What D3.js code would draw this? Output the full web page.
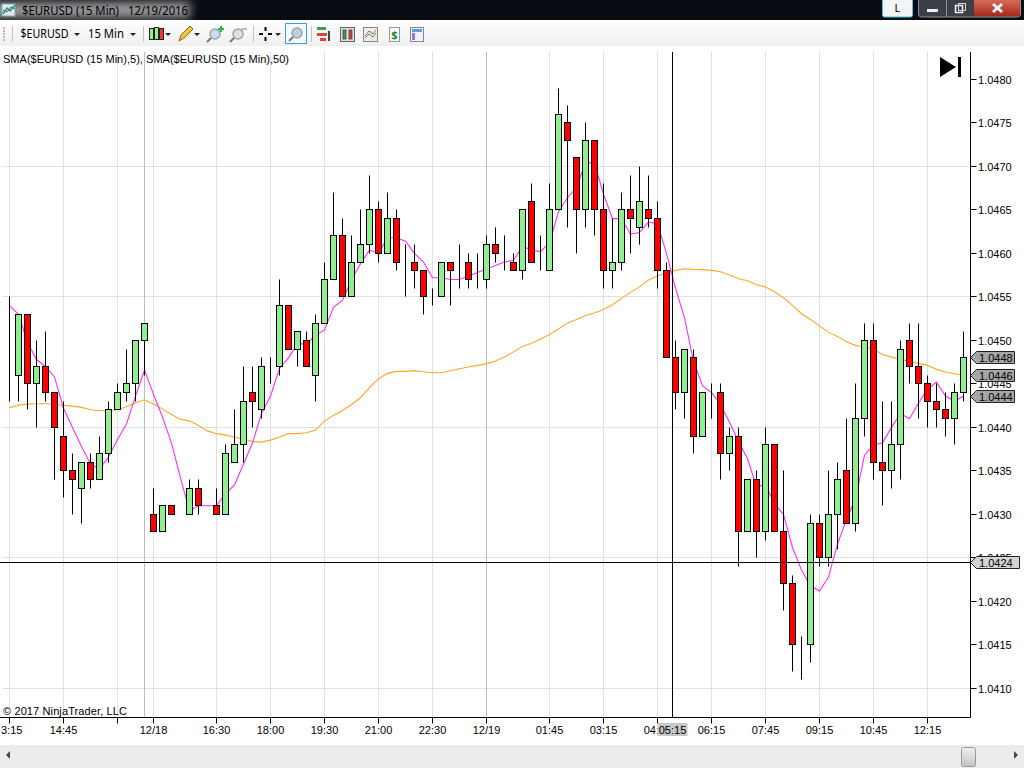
<!DOCTYPE html>
<html>
<head>
    <title>$EURUSD (15 Min)</title>
    <script src="https://d3js.org/d3.v7.min.js"></script>
    <style>
        html, body { margin: 0; padding: 0; background: #fff; overflow: hidden; }
        svg { display: block; }
        text { font-family: "Liberation Sans", Arial, sans-serif; font-size: 11px; fill: #000; }
        .ui text { font-family: "Noto Sans", sans-serif; font-size: 12px; }
    </style>
</head>
<body>
    <div id="chart"></div>

    <script>
        // Candles, one per 15 minute bar
        const opens = [
            1.0446, 1.0446, 1.0453, 1.0445, 1.0447, 1.0444, 1.0439, 1.0435, 1.0433, 1.0436,
            1.0434, 1.0437, 1.0442, 1.0444, 1.0445, 1.0450, 1.0430, 1.0428, 1.0431, 1.0430,
            1.0430, 1.0433, 1.0431, 1.0431, 1.0430, 1.0436, 1.0438, 1.0444, 1.0442, 1.0447,
            1.0447, 1.0454, 1.0449, 1.0450, 1.0446, 1.0452, 1.0457, 1.0462, 1.0455, 1.0459,
            1.0461, 1.0465, 1.0460, 1.0464, 1.0459, 1.0459, 1.0458, 1.0455, 1.0455, 1.0459,
            1.0458, 1.0459, 1.0457, 1.0457, 1.0461, 1.0460, 1.0459, 1.0458, 1.0466, 1.0459,
            1.0458, 1.0465, 1.0475, 1.0471, 1.0465, 1.0473, 1.0465, 1.0458, 1.0459, 1.0465,
            1.0463, 1.0465, 1.0464, 1.0458, 1.0448, 1.0444, 1.0448, 1.0439, 1.0444, 1.0444,
            1.0437, 1.0439, 1.0428, 1.0434, 1.0428, 1.0438, 1.0428, 1.0422, 1.0415, 1.0415,
            1.0429, 1.0425, 1.0430, 1.0435, 1.0429, 1.0441, 1.0450, 1.0436, 1.0435, 1.0438,
            1.0450, 1.0447, 1.0445, 1.0443, 1.0442, 1.0441, 1.0444
        ];
        const highs = [
            1.0455, 1.0453, 1.0453, 1.0450, 1.0451, 1.0444, 1.0443, 1.0437, 1.0436, 1.0437,
            1.0439, 1.0443, 1.0445, 1.0449, 1.0450, 1.0452, 1.0433, 1.0431, 1.0431, 1.0430,
            1.0434, 1.0434, 1.0431, 1.0433, 1.0438, 1.0442, 1.0447, 1.0447, 1.0448, 1.0448,
            1.0457, 1.0454, 1.0451, 1.0451, 1.0453, 1.0459, 1.0467, 1.0464, 1.0462, 1.0465,
            1.0469, 1.0466, 1.0467, 1.0465, 1.0461, 1.0461, 1.0458, 1.0456, 1.0459, 1.0459,
            1.0461, 1.0460, 1.0460, 1.0462, 1.0463, 1.0462, 1.0460, 1.0465, 1.0468, 1.0462,
            1.0468, 1.0479, 1.0477, 1.0471, 1.0475, 1.0473, 1.0468, 1.0464, 1.0467, 1.0469,
            1.0470, 1.0469, 1.0466, 1.0459, 1.0450, 1.0449, 1.0449, 1.0444, 1.0445, 1.0445,
            1.0440, 1.0440, 1.0434, 1.0435, 1.0440, 1.0438, 1.0435, 1.0423, 1.0416, 1.0430,
            1.0430, 1.0435, 1.0436, 1.0441, 1.0445, 1.0452, 1.0452, 1.0443, 1.0443, 1.0450,
            1.0452, 1.0452, 1.0446, 1.0445, 1.0444, 1.0445, 1.0451
        ];
        const lows = [
            1.0443, 1.0443, 1.0442, 1.0440, 1.0443, 1.0434, 1.0432, 1.0430, 1.0429, 1.0433,
            1.0434, 1.0436, 1.0442, 1.0443, 1.0443, 1.0446, 1.0428, 1.0428, 1.0430, 1.0430,
            1.0430, 1.0430, 1.0431, 1.0430, 1.0430, 1.0436, 1.0436, 1.0440, 1.0441, 1.0445,
            1.0446, 1.0449, 1.0447, 1.0447, 1.0443, 1.0452, 1.0457, 1.0455, 1.0455, 1.0459,
            1.0460, 1.0459, 1.0460, 1.0458, 1.0455, 1.0456, 1.0453, 1.0454, 1.0455, 1.0454,
            1.0456, 1.0456, 1.0456, 1.0456, 1.0459, 1.0458, 1.0458, 1.0457, 1.0459, 1.0458,
            1.0458, 1.0465, 1.0463, 1.0460, 1.0463, 1.0462, 1.0456, 1.0456, 1.0458, 1.0460,
            1.0461, 1.0463, 1.0456, 1.0448, 1.0442, 1.0441, 1.0437, 1.0439, 1.0441, 1.0434,
            1.0435, 1.0424, 1.0428, 1.0425, 1.0427, 1.0428, 1.0419, 1.0412, 1.0411, 1.0413,
            1.0424, 1.0424, 1.0426, 1.0429, 1.0428, 1.0439, 1.0434, 1.0431, 1.0433, 1.0434,
            1.0445, 1.0441, 1.0440, 1.0440, 1.0439, 1.0438, 1.0443
        ];
        const closes = [
            1.0446, 1.0453, 1.0445, 1.0447, 1.0444, 1.0440, 1.0435, 1.0434, 1.0436, 1.0434,
            1.0437, 1.0442, 1.0444, 1.0445, 1.0450, 1.0452, 1.0428, 1.0431, 1.0430, 1.0430,
            1.0433, 1.0431, 1.0431, 1.0430, 1.0437, 1.0438, 1.0443, 1.0443, 1.0447, 1.0447,
            1.0454, 1.0449, 1.0451, 1.0447, 1.0452, 1.0457, 1.0462, 1.0455, 1.0459, 1.0461,
            1.0465, 1.0460, 1.0464, 1.0459, 1.0459, 1.0458, 1.0455, 1.0455, 1.0459, 1.0458,
            1.0458, 1.0457, 1.0457, 1.0461, 1.0460, 1.0460, 1.0458, 1.0465, 1.0459, 1.0459,
            1.0465, 1.0476, 1.0473, 1.0465, 1.0473, 1.0465, 1.0458, 1.0459, 1.0465, 1.0464,
            1.0466, 1.0464, 1.0458, 1.0448, 1.0444, 1.0449, 1.0439, 1.0444, 1.0444, 1.0437,
            1.0439, 1.0428, 1.0434, 1.0428, 1.0438, 1.0428, 1.0422, 1.0415, 1.0415, 1.0429,
            1.0425, 1.0430, 1.0434, 1.0429, 1.0441, 1.0450, 1.0436, 1.0435, 1.0438, 1.0449,
            1.0447, 1.0445, 1.0443, 1.0442, 1.0441, 1.0444, 1.0448
        ];

        // Indicator lines
        const sma5 = [
            1.04540, 1.04530, 1.04498, 1.04478, 1.04470, 1.04458, 1.04422, 1.04400, 1.04378, 1.04358,
            1.04352, 1.04366, 1.04386, 1.04404, 1.04436, 1.04466, 1.04438, 1.04412, 1.04382, 1.04342,
            1.04304, 1.04310, 1.04310, 1.04310, 1.04324, 1.04334, 1.04358, 1.04382, 1.04416, 1.04436,
            1.04468, 1.04480, 1.04496, 1.04496, 1.04506, 1.04512, 1.04538, 1.04546, 1.04570, 1.04588,
            1.04604, 1.04600, 1.04618, 1.04618, 1.04614, 1.04600, 1.04590, 1.04572, 1.04572, 1.04570,
            1.04570, 1.04574, 1.04578, 1.04582, 1.04586, 1.04590, 1.04592, 1.04608, 1.04604, 1.04602,
            1.04612, 1.04648, 1.04664, 1.04676, 1.04704, 1.04704, 1.04668, 1.04640, 1.04640, 1.04622,
            1.04624, 1.04636, 1.04634, 1.04600, 1.04560, 1.04526, 1.04476, 1.04448, 1.04440, 1.04426,
            1.04406, 1.04384, 1.04364, 1.04332, 1.04334, 1.04312, 1.04300, 1.04262, 1.04236, 1.04218,
            1.04212, 1.04228, 1.04266, 1.04294, 1.04318, 1.04368, 1.04380, 1.04382, 1.04400, 1.04416,
            1.04410, 1.04428, 1.04444, 1.04452, 1.04436, 1.04430, 1.04436
        ];
        const sma50 = [
            1.044226, 1.044256, 1.044268, 1.044272, 1.044272, 1.044264, 1.044253, 1.044245, 1.044230, 1.044203,
            1.044192, 1.044199, 1.044203, 1.044238, 1.044284, 1.044318, 1.044270, 1.044213, 1.044149, 1.044092,
            1.044075, 1.044023, 1.043960, 1.043928, 1.043911, 1.043889, 1.043862, 1.043839, 1.043831, 1.043854,
            1.043889, 1.043928, 1.043928, 1.043939, 1.043969, 1.044072, 1.044138, 1.044195, 1.044264, 1.044341,
            1.044456, 1.044560, 1.044621, 1.044644, 1.044644, 1.044652, 1.044640, 1.044629, 1.044629, 1.044652,
            1.044675, 1.044695, 1.044713, 1.044730, 1.044764, 1.044810, 1.044868, 1.044931, 1.044966, 1.045017,
            1.045069, 1.045132, 1.045201, 1.045241, 1.045287, 1.045316, 1.045356, 1.045410, 1.045483, 1.045552,
            1.045615, 1.045695, 1.045739, 1.045778, 1.045805, 1.045824, 1.045816, 1.045813, 1.045805, 1.045790,
            1.045751, 1.045709, 1.045686, 1.045640, 1.045613, 1.045560, 1.045491, 1.045402, 1.045307, 1.045241,
            1.045164, 1.045095, 1.045046, 1.044985, 1.044943, 1.044928, 1.044897, 1.044839, 1.044808, 1.044782,
            1.044762, 1.044736, 1.044713, 1.044667, 1.044636, 1.044617, 1.044598
        ];

        // Axis content
        const priceTicks = [1.0410, 1.0415, 1.0420, 1.0425, 1.0430, 1.0435, 1.0440, 1.0445, 1.0450, 1.0455, 1.0460, 1.0465, 1.0470, 1.0475, 1.0480];
        const priceGrid = [1.0410, 1.0425, 1.0440, 1.0455, 1.0470];
        const timeTickBars = [0, 6, 12, 16, 23, 29, 35, 41, 47, 53, 60, 66, 72, 78, 84, 90, 96, 102];
        const timeTickLabels = ['3:15', '14:45', '', '12/18', '16:30', '18:00', '19:30', '21:00', '22:30', '12/19', '01:45', '03:15', '04:45', '06:15', '07:45', '09:15', '10:45', '12:15'];
        const sessionBars = [15, 53];

        // Crosshair position
        const cursorBar = 73.68;
        const cursorPrice = 1.04245;
        const cursorPriceLabel = '1.0424';
        const cursorTimeLabel = '05:15';

        const width = 1024;
        const height = 768;
        const plotTop = 52;
        const plotBottom = 717.5;
        const plotRight = 970.5;

        const svg = d3.select('#chart').append('svg')
            .attr('width', width)
            .attr('height', height);

        const x = d3.scaleLinear().domain([0, 106]).range([9.5, 963.5]);
        const y = d3.scaleLinear().domain([1.0410, 1.0480]).range([688.4, 79.4]);
        const py = v => Math.floor(y(v)) + 0.5;

        // Grid
        const grid = svg.append('g');
        grid.selectAll('.hgrid').data(priceGrid).enter().append('line')
            .attr('x1', 2).attr('x2', plotRight)
            .attr('y1', py).attr('y2', py)
            .attr('stroke', '#e1e1e1');
        grid.selectAll('.vgrid').data(timeTickBars).enter().append('line')
            .attr('x1', d => x(d)).attr('x2', d => x(d))
            .attr('y1', plotTop).attr('y2', plotBottom)
            .attr('stroke', '#e1e1e1');
        grid.selectAll('.session').data(sessionBars).enter().append('line')
            .attr('x1', d => x(d)).attr('x2', d => x(d))
            .attr('y1', plotTop).attr('y2', plotBottom)
            .attr('stroke', '#bdbdbd');

        // Indicators sit under the candles
        const line = d3.line().x((d, i) => x(i)).y(d => y(d));
        svg.append('path').datum(sma50).attr('d', line)
            .attr('fill', 'none').attr('stroke', '#ffa826').attr('stroke-width', 1.1);
        svg.append('path').datum(sma5).attr('d', line)
            .attr('fill', 'none').attr('stroke', '#ff2eff').attr('stroke-width', 1.1);

        // Candles
        const bars = d3.range(opens.length);
        svg.append('g').selectAll('line').data(bars).enter().append('line')
            .attr('x1', d => x(d)).attr('x2', d => x(d))
            .attr('y1', d => py(highs[d])).attr('y2', d => py(lows[d]))
            .attr('stroke', '#000');
        svg.append('g').selectAll('rect').data(bars).enter().append('rect')
            .attr('x', d => x(d) - 3)
            .attr('width', 6)
            .attr('y', d => py(Math.max(opens[d], closes[d])))
            .attr('height', d => py(Math.min(opens[d], closes[d])) - py(Math.max(opens[d], closes[d])))
            .attr('fill', d => closes[d] > opens[d] ? '#90ee90' : '#ff0000')
            .attr('stroke', '#000');

        // Axes lines and ticks
        svg.append('line').attr('x1', 0).attr('x2', plotRight).attr('y1', plotBottom).attr('y2', plotBottom).attr('stroke', '#000');
        svg.append('line').attr('x1', plotRight).attr('x2', plotRight).attr('y1', plotTop).attr('y2', plotBottom).attr('stroke', '#000');

        const yAxis = svg.append('g');
        yAxis.selectAll('line').data(priceTicks).enter().append('line')
            .attr('x1', plotRight).attr('x2', plotRight + 6)
            .attr('y1', py).attr('y2', py)
            .attr('stroke', '#000');
        yAxis.selectAll('text').data(priceTicks).enter().append('text')
            .attr('x', 978).attr('y', d => py(d) + 4)
            .text(d => d3.format('.4f')(d));

        const xAxis = svg.append('g');
        xAxis.selectAll('line').data(timeTickBars).enter().append('line')
            .attr('x1', d => x(d)).attr('x2', d => x(d))
            .attr('y1', plotBottom).attr('y2', plotBottom + 6)
            .attr('stroke', '#000');
        xAxis.selectAll('text').data(timeTickBars).enter().append('text')
            .attr('x', (d, i) => i === 0 ? 1 : x(d))
            .attr('y', 734)
            .attr('text-anchor', (d, i) => i === 0 ? 'start' : 'middle')
            .text((d, i) => timeTickLabels[i]);

        // Text on the plot
        svg.append('text').attr('x', 3).attr('y', 63).attr('textLength', 286).text('SMA($EURUSD (15 Min),5), SMA($EURUSD (15 Min),50)');
        svg.append('text').attr('x', 3).attr('y', 715).attr('textLength', 124).text('\u00a9 2017 NinjaTrader, LLC');

        // Jump to last bar button
        svg.append('path').attr('d', 'M940 57 L956 67 L940 77 Z').attr('fill', '#000');
        svg.append('rect').attr('x', 958).attr('y', 57).attr('width', 3).attr('height', 20).attr('fill', '#000');

        // Crosshair
        const cx = Math.floor(x(cursorBar)) + 0.5;
        const cy = py(cursorPrice);
        svg.append('line').attr('x1', cx).attr('x2', cx).attr('y1', plotTop).attr('y2', plotBottom).attr('stroke', '#000');
        svg.append('line').attr('x1', 0).attr('x2', plotRight).attr('y1', cy).attr('y2', cy).attr('stroke', '#000');
        svg.append('rect').attr('x', cx - 15).attr('y', 723).attr('width', 30).attr('height', 13).attr('fill', '#c8c8c8');
        svg.append('text').attr('x', cx).attr('y', 734).attr('text-anchor', 'middle').text(cursorTimeLabel);

        // Price flags on the axis
        function flag(value, label, right, fill) {
            const fy = py(value);
            svg.append('path')
                .attr('d', `M${plotRight} ${fy} L976.5 ${fy - 6} H${right} V${fy + 6} H976.5 Z`)
                .attr('fill', fill).attr('stroke', '#222');
            svg.append('text').attr('x', 979).attr('y', fy + 4).text(label);
        }
        flag(cursorPrice, cursorPriceLabel, 1019.5, '#d4d4d4');
        const f = d3.format('.4f');
        flag(sma5[106], f(sma5[106]), 1014.5, '#a6a6a6');
        flag(sma50[106], f(sma50[106]), 1014.5, '#a6a6a6');
        flag(closes[106], f(closes[106]), 1014.5, '#a6a6a6');

        // Window chrome
        const ui = svg.append('g').attr('class', 'ui');
        const defs = svg.append('defs');
        const toolbarGrad = defs.append('linearGradient').attr('id', 'toolbarGrad').attr('x2', 0).attr('y2', 1);
        toolbarGrad.append('stop').attr('offset', 0).attr('stop-color', '#ffffff');
        toolbarGrad.append('stop').attr('offset', 1).attr('stop-color', '#efefef');
        const thumbGrad = defs.append('linearGradient').attr('id', 'thumbGrad').attr('x2', 0).attr('y2', 1);
        thumbGrad.append('stop').attr('offset', 0).attr('stop-color', '#f0f0f0');
        thumbGrad.append('stop').attr('offset', 1).attr('stop-color', '#c4c4c4');
        const closeGrad = defs.append('linearGradient').attr('id', 'closeGrad').attr('x2', 0).attr('y2', 1);
        closeGrad.append('stop').attr('offset', 0).attr('stop-color', '#d9705f');
        closeGrad.append('stop').attr('offset', 1).attr('stop-color', '#a8281a');
        defs.append('filter').attr('id', 'glow').attr('x', '-20%').attr('y', '-100%').attr('width', '140%').attr('height', '300%')
            .append('feGaussianBlur').attr('stdDeviation', 5);

        ui.append('rect').attr('width', width).attr('height', 20).attr('fill', '#090c13');
        ui.append('rect').attr('x', -10).attr('y', 2).attr('width', 200).attr('height', 16).attr('fill', '#9a9a9a').attr('filter', 'url(#glow)');
        ui.append('rect').attr('y', 20).attr('width', width).attr('height', 26).attr('fill', 'url(#toolbarGrad)');
        ui.append('rect').attr('y', 46).attr('width', width).attr('height', 6).attr('fill', '#fff');

        // Title bar
        ui.append('text').attr('x', 22).attr('y', 15).attr('textLength', 97).attr('lengthAdjust', 'spacingAndGlyphs').text('$EURUSD (15 Min)');
        ui.append('text').attr('x', 128).attr('y', 15).attr('textLength', 60).attr('lengthAdjust', 'spacingAndGlyphs').text('12/19/2016');
        ui.append('rect').attr('x', 2).attr('y', 4).attr('width', 13).attr('height', 12).attr('fill', '#dfe9f5').attr('stroke', '#8aa');
        ui.append('path').attr('d', 'M3 14 L7 8 L10 11 L15 5').attr('fill', 'none').attr('stroke', '#2a9a3a').attr('stroke-width', 1.4);
        ui.append('path').attr('d', 'M3 10 L7 12 L11 7 L15 9').attr('fill', 'none').attr('stroke', '#3060c0');

        ui.append('rect').attr('x', 882.5).attr('y', -2).attr('width', 30).attr('height', 19).attr('rx', 2).attr('fill', '#f2f4f8').attr('stroke', '#49c2e8');
        ui.append('text').attr('x', 897.5).attr('y', 12).attr('text-anchor', 'middle').style('font-size', '11px').text('L');
        ui.append('rect').attr('x', 918.5).attr('y', -2).attr('width', 102).attr('height', 19).attr('rx', 3).attr('fill', '#3c4046').attr('stroke', '#8d9196');
        ui.append('rect').attr('x', 974).attr('y', -1).attr('width', 46).attr('height', 17).attr('rx', 2).attr('fill', 'url(#closeGrad)');
        ui.append('line').attr('x1', 946.5).attr('x2', 946.5).attr('y1', 0).attr('y2', 17).attr('stroke', '#8d9196');
        ui.append('rect').attr('x', 927).attr('y', 9).attr('width', 11).attr('height', 3).attr('fill', '#f0f0f0');
        ui.append('rect').attr('x', 955.5).attr('y', 5.5).attr('width', 7).attr('height', 7).attr('fill', 'none').attr('stroke', '#f0f0f0').attr('stroke-width', 1.5);
        ui.append('rect').attr('x', 958.5).attr('y', 3.5).attr('width', 7).attr('height', 7).attr('fill', 'none').attr('stroke', '#d8d8d8');
        ui.append('path').attr('d', 'M993 4 L1002 12 M1002 4 L993 12').attr('stroke', '#f4f4f4').attr('stroke-width', 3);

        // Toolbar
        ui.selectAll('.sep').data([12.5, 143.5, 253.5, 311.5]).enter().append('line')
            .attr('x1', d => d).attr('x2', d => d).attr('y1', 26).attr('y2', 42).attr('stroke', '#c4c4c4');
        ui.selectAll('.grip').data([27, 30, 33, 36, 39]).enter().append('rect')
            .attr('x', 3).attr('y', d => d).attr('width', 2).attr('height', 2).attr('fill', '#bbb');
        ui.append('text').attr('x', 20.5).attr('y', 38).attr('textLength', 48).attr('lengthAdjust', 'spacingAndGlyphs').text('$EURUSD');
        ui.append('text').attr('x', 88).attr('y', 38).attr('textLength', 36).attr('lengthAdjust', 'spacingAndGlyphs').text('15 Min');
        ui.selectAll('.caret').data([77, 133, 168, 197, 278]).enter().append('path')
            .attr('d', d => `M${d - 3} 33 H${d + 3} L${d} 36 Z`).attr('fill', '#222');

        // Candle icon
        ui.append('rect').attr('x', 149.5).attr('y', 28.5).attr('width', 4).attr('height', 11).attr('fill', '#90ee90').attr('stroke', '#222');
        ui.append('rect').attr('x', 154.5).attr('y', 27.5).attr('width', 4).attr('height', 12).attr('fill', '#90ee90').attr('stroke', '#222');
        ui.append('rect').attr('x', 159.5).attr('y', 28.5).attr('width', 4).attr('height', 11).attr('fill', '#ff3030').attr('stroke', '#222');
        // Pencil icon
        ui.append('path').attr('d', 'M179 41 L181 35 L190 26 L193 29 L184 38 Z').attr('fill', '#f2c53a').attr('stroke', '#8a6a10');
        // Zoom icons
        function lens(cxx, cyy, color) {
            ui.append('circle').attr('cx', cxx).attr('cy', cyy).attr('r', 5).attr('fill', color).attr('stroke', '#9aa4ae').attr('stroke-width', 1.5);
            ui.append('line').attr('x1', cxx - 4).attr('y1', cyy + 4).attr('x2', cxx - 8).attr('y2', cyy + 8).attr('stroke', '#777').attr('stroke-width', 2);
        }
        lens(215, 34, '#c8dcee');
        ui.append('path').attr('d', 'M218 29 H224 M221 26 V32').attr('stroke', '#2cb34a').attr('stroke-width', 2);
        lens(238, 34, '#dedede');
        ui.append('path').attr('d', 'M241 29 H247').attr('stroke', '#bbb').attr('stroke-width', 2);
        // Crosshair icon
        ui.append('path').attr('d', 'M259 34 H263 M268 34 H272 M265.5 27 V31 M265.5 37 V41').attr('stroke', '#000').attr('stroke-width', 2);
        // Selected zoom button
        ui.append('rect').attr('x', 285.5).attr('y', 23.5).attr('width', 21).attr('height', 20).attr('fill', '#f4f9fe').attr('stroke', '#3a9bf0');
        lens(297, 33, '#b9d2e8');
        // Right hand icons
        ui.append('rect').attr('x', 317).attr('y', 27).attr('width', 9).attr('height', 3).attr('fill', '#3aa04a');
        ui.append('rect').attr('x', 317).attr('y', 33).attr('width', 10).attr('height', 3).attr('fill', '#d8443a');
        ui.append('rect').attr('x', 328).attr('y', 31).attr('width', 2).attr('height', 10).attr('fill', '#444');
        ui.append('rect').attr('x', 320).attr('y', 38).attr('width', 6).attr('height', 3).attr('fill', '#d8443a');
        ui.append('rect').attr('x', 340.5).attr('y', 27.5).attr('width', 14).attr('height', 14).attr('fill', '#ddd').attr('stroke', '#666');
        ui.append('rect').attr('x', 343).attr('y', 30).attr('width', 3).attr('height', 9).attr('fill', '#3aa04a').attr('stroke', '#222').attr('stroke-width', 0.6);
        ui.append('rect').attr('x', 349).attr('y', 30).attr('width', 3).attr('height', 9).attr('fill', '#d8443a').attr('stroke', '#222').attr('stroke-width', 0.6);
        ui.append('rect').attr('x', 363.5).attr('y', 27.5).attr('width', 14).attr('height', 14).attr('fill', '#ececec').attr('stroke', '#888');
        ui.append('path').attr('d', 'M365 36 L369 31 L373 34 L376 30').attr('fill', 'none').attr('stroke', '#d84a4a');
        ui.append('path').attr('d', 'M365 38 L369 34 L373 37 L376 33').attr('fill', 'none').attr('stroke', '#3aa04a');
        ui.append('rect').attr('x', 389.5).attr('y', 27.5).attr('width', 10).attr('height', 14).attr('fill', '#f8f8f8').attr('stroke', '#999');
        ui.append('text').attr('x', 394.5).attr('y', 39).attr('text-anchor', 'middle').style('font-size', '11px').style('font-weight', 'bold').style('fill', '#1c8a3a').text('$');
        ui.append('rect').attr('x', 410.5).attr('y', 27.5).attr('width', 13).attr('height', 14).attr('fill', '#eef2fa').attr('stroke', '#888');
        ui.append('rect').attr('x', 412).attr('y', 29).attr('width', 10).attr('height', 3).attr('fill', '#5aa0e0');
        ui.append('rect').attr('x', 412).attr('y', 33).attr('width', 3).attr('height', 7).attr('fill', '#a070e0');

        // Scrollbar
        ui.append('rect').attr('y', 745).attr('width', width).attr('height', 23).attr('fill', '#ececec');
        ui.append('path').attr('d', 'M6 755 L10 751 V759 Z').attr('fill', '#444');
        ui.append('path').attr('d', 'M1018 755 L1014 751 V759 Z').attr('fill', '#444');
        ui.append('rect').attr('x', 961.5).attr('y', 747.5).attr('width', 14).attr('height', 19).attr('rx', 2).attr('fill', 'url(#thumbGrad)').attr('stroke', '#9a9a9a');
    </script>
</body>
</html>
